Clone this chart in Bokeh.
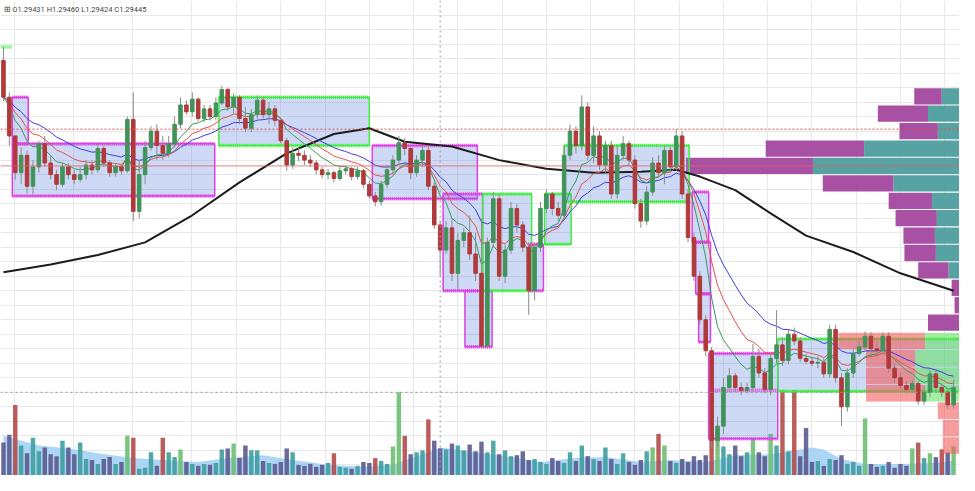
import numpy as np
import pandas as pd
from bokeh.plotting import figure
from bokeh.models import Range1d, FixedTicker, Label, Span
from bokeh.embed import file_html
from bokeh.resources import INLINE

# ---------------- data ----------------
header_text = "\u229e O1.29431  H1.29460  L1.29424  C1.29445"

first_open = 1.2969
closes = [1.2950, 1.2930, 1.2911, 1.2920, 1.2904, 1.2914, 1.2926, 1.2916, 1.2910, 1.2905,
          1.2914, 1.2910, 1.29075, 1.2910, 1.2915, 1.29125, 1.29235, 1.2916, 1.2911, 1.2914,
          1.2912, 1.29385, 1.2891, 1.2910, 1.2924, 1.29325, 1.2925, 1.2921, 1.2926, 1.2936,
          1.2946, 1.29425, 1.2949, 1.2939, 1.2944, 1.2940, 1.2947, 1.2954, 1.2945, 1.2950,
          1.2939, 1.2934, 1.2941, 1.29485, 1.2941, 1.2944, 1.2938, 1.29275, 1.2915, 1.2921,
          1.2920, 1.29175, 1.2916, 1.29125, 1.2910, 1.2911, 1.2908, 1.2912, 1.2913, 1.2909,
          1.2912, 1.2905, 1.2899, 1.2896, 1.2905, 1.29125, 1.29175, 1.29265, 1.29235, 1.2911,
          1.29175, 1.29225, 1.2904, 1.2884, 1.2871, 1.28825, 1.2859, 1.2876, 1.2880, 1.2869,
          1.2859, 1.28215, 1.2875, 1.28975, 1.28575, 1.2871, 1.28925, 1.2884, 1.28725, 1.2850,
          1.28725, 1.28925, 1.2900, 1.28925, 1.2889, 1.2920, 1.29325, 1.2925, 1.2945, 1.2920,
          1.2930, 1.2915, 1.2925, 1.2900, 1.2920, 1.2926, 1.29175, 1.2895, 1.2886, 1.2901,
          1.2916, 1.2911, 1.29225, 1.2914, 1.2930, 1.2900, 1.28775, 1.28575, 1.2835, 1.2819,
          1.27725, 1.2780, 1.2800, 1.2806, 1.2800, 1.27985, 1.2800, 1.2816, 1.28075, 1.2799,
          1.2815, 1.2822, 1.2814, 1.28275, 1.2824, 1.2815, 1.28135, 1.28125, 1.2813, 1.2807,
          1.2830, 1.2805, 1.2790, 1.28075, 1.28175, 1.2821, 1.28265, 1.2820, 1.2819, 1.28265,
          1.2810, 1.2805, 1.2801, 1.2799, 1.2802, 1.2793, 1.27975, 1.2807, 1.2800, 1.27975,
          1.2791, 1.2800]
highs = [1.2976, 1.29525, 1.2930, 1.2924, 1.29225, 1.29175, 1.29275, 1.2930, 1.2920, 1.29125,
         1.2916, 1.2916, 1.29125, 1.2914, 1.29175, 1.29175, 1.2926, 1.2925, 1.29175, 1.2916,
         1.2915, 1.2940, 1.29525, 1.29175, 1.29275, 1.2935, 1.2936, 1.2930, 1.2930, 1.2940,
         1.2950, 1.29485, 1.29525, 1.2950, 1.2946, 1.2946, 1.2950, 1.2956, 1.2955, 1.2952,
         1.2951, 1.2945, 1.2944, 1.2951, 1.2950, 1.29475, 1.2946, 1.2939, 1.2929, 1.2924,
         1.2924, 1.29225, 1.2920, 1.29175, 1.2914, 1.2913, 1.2912, 1.2914, 1.2915, 1.2914,
         1.2914, 1.2913, 1.2907, 1.2901, 1.2907, 1.2915, 1.2920, 1.2930, 1.2929, 1.2925,
         1.2920, 1.2925, 1.2925, 1.2906, 1.2886, 1.2886, 1.28875, 1.2880, 1.28825, 1.2889,
         1.2880, 1.28875, 1.28775, 1.2901, 1.2900, 1.2874, 1.2896, 1.2895, 1.2886, 1.2875,
         1.2875, 1.2896, 1.29025, 1.2901, 1.2896, 1.2925, 1.2936, 1.2935, 1.2951, 1.29475,
         1.2935, 1.29325, 1.29275, 1.29275, 1.2925, 1.2930, 1.29275, 1.2920, 1.28975, 1.2904,
         1.2919, 1.2920, 1.2925, 1.2925, 1.29335, 1.29325, 1.29025, 1.2880, 1.2860, 1.28375,
         1.2821, 1.2785, 1.2805, 1.2810, 1.28075, 1.28025, 1.28025, 1.28225, 1.2820, 1.2810,
         1.28175, 1.2840, 1.2826, 1.2830, 1.2831, 1.2826, 1.28175, 1.2816, 1.2816, 1.2815,
         1.28325, 1.28325, 1.28075, 1.2810, 1.2820, 1.2824, 1.2829, 1.28285, 1.2824, 1.28285,
         1.28285, 1.28125, 1.28075, 1.28035, 1.2804, 1.28035, 1.2800, 1.2809, 1.28085, 1.2802,
         1.2799, 1.2804]
lows = [1.2948, 1.2925, 1.29075, 1.2905, 1.2900, 1.2900, 1.2911, 1.2914, 1.29075, 1.2902,
        1.29035, 1.29075, 1.2905, 1.2906, 1.29075, 1.2910, 1.2911, 1.2914, 1.2909, 1.2909,
        1.2910, 1.2911, 1.2886, 1.28875, 1.2905, 1.29225, 1.29175, 1.29175, 1.2919, 1.2924,
        1.2934, 1.2941, 1.2940, 1.29375, 1.2937, 1.2938, 1.2938, 1.2946, 1.2943, 1.29415,
        1.2936, 1.2932, 1.2932, 1.2939, 1.2939, 1.2936, 1.2935, 1.2926, 1.2912, 1.2913,
        1.2917, 1.2915, 1.2914, 1.2910, 1.2908, 1.29075, 1.2906, 1.2907, 1.2910, 1.2907,
        1.29075, 1.2903, 1.28975, 1.28935, 1.2894, 1.2903, 1.2910, 1.2915, 1.2920, 1.29075,
        1.2909, 1.2914, 1.2902, 1.2882, 1.28575, 1.2869, 1.2855, 1.2850, 1.28725, 1.2866,
        1.2855, 1.2820, 1.2820, 1.28725, 1.2855, 1.2854, 1.2869, 1.2880, 1.2870, 1.28375,
        1.2845, 1.2870, 1.2890, 1.2889, 1.2886, 1.2887, 1.29175, 1.2921, 1.29225, 1.29175,
        1.2916, 1.29125, 1.2911, 1.28975, 1.28975, 1.29175, 1.2915, 1.28925, 1.28825, 1.2884,
        1.2899, 1.2909, 1.2905, 1.2911, 1.2912, 1.28975, 1.2875, 1.2855, 1.28325, 1.2816,
        1.2769, 1.2769, 1.2776, 1.27975, 1.27975, 1.2796, 1.2797, 1.27975, 1.2805, 1.2797,
        1.2796, 1.28125, 1.2811, 1.2812, 1.2822, 1.2813, 1.2812, 1.2811, 1.2810, 1.2805,
        1.2805, 1.28025, 1.2780, 1.27875, 1.2805, 1.2816, 1.2819, 1.28175, 1.2817, 1.2817,
        1.28075, 1.28025, 1.2799, 1.2797, 1.2797, 1.2791, 1.2791, 1.2795, 1.27975, 1.2795,
        1.2789, 1.2789]
volumes = [340, 420, 730, 310, 230, 390, 250, 290, 220, 200,
           360, 290, 220, 340, 170, 160, 120, 170, 190, 120,
           140, 410, 390, 70, 80, 240, 100, 390, 240, 190,
           270, 140, 120, 100, 120, 110, 130, 270, 280, 330,
           180, 310, 260, 260, 150, 130, 120, 140, 280, 240,
           110, 100, 120, 90, 110, 130, 230, 90, 80, 70,
           100, 140, 130, 180, 150, 120, 300, 860, 410, 220,
           240, 260, 580, 360, 280, 270, 330, 310, 260, 320,
           250, 350, 240, 360, 220, 260, 200, 210, 250, 160,
           170, 140, 120, 180, 150, 130, 240, 150, 310, 200,
           170, 150, 290, 170, 120, 230, 140, 110, 160, 250,
           290, 430, 310, 150, 130, 170, 140, 200, 160, 210,
           400, 380, 300, 220, 310, 200, 240, 380, 240, 200,
           430, 310, 880, 250, 880, 200, 490, 140, 150, 100,
           170, 160, 210, 120, 140, 100, 590, 120, 90, 100,
           140, 80, 120, 100, 280, 340, 180, 230, 190, 270,
           240, 300]

# long moving average (at some bars)
ma_long_idx = [0, 8, 16, 24, 32, 40, 48, 56, 62, 68, 76, 84, 92, 100, 108, 114, 118, 124, 130, 136, 144, 152, 161]
ma_long_val = [1.28595, 1.28635, 1.28685, 1.2875, 1.2889, 1.2906, 1.2921, 1.2931, 1.2934, 1.2927, 1.29245,
               1.29175, 1.2913, 1.2911, 1.29115, 1.29125, 1.2909, 1.2902, 1.2890, 1.28785, 1.2870, 1.2859, 1.2850]

# volume moving average
vol_ma_idx = [0, 6, 11, 16, 22, 27, 33, 38, 44, 49, 55, 61, 66, 72, 74, 80, 86, 91, 97, 102, 108, 113,
              119, 124, 130, 137, 139, 142, 146, 152, 157, 161]
vol_ma_val = [410, 310, 280, 230, 180, 160, 140, 180, 210, 160, 110, 90, 110, 240, 290, 240, 190, 140,
              180, 190, 140, 160, 140, 210, 220, 290, 270, 170, 120, 120, 130, 150]

# supply / demand zones
zone_left = [1.5, 1.5, 36.5, 62.5, 74.5, 78.2, 81.2, 89.2, 91.7, 95.0, 116.7, 117.3, 117.8, 119.5, 131.2]
zone_right = [4.2, 35.8, 62.0, 80.3, 81.2, 82.8, 89.5, 91.5, 96.2, 116.2, 119.5, 119.8, 119.8, 131.2, 162.0]
zone_top = [1.2950, 1.2926, 1.2950, 1.2925, 1.2900, 1.2850, 1.2900, 1.2874, 1.2900, 1.2925, 1.2901,
            1.2875, 1.28485, 1.28175, 1.2825]
zone_bottom = [1.2926, 1.2899, 1.2925, 1.28975, 1.2850, 1.2821, 1.2850, 1.2850, 1.2874, 1.2896, 1.2875,
               1.28485, 1.28235, 1.27735, 1.2798]
zone_kind = ["bear", "bear", "bull", "bear", "bear", "bear", "bull", "bear", "bull", "bull", "bear",
             "bear", "bear", "bear", "bull"]
zone_mid = [None, None, None, None, None, None, None, None, None, None, None, None, None, 1.27985, None]

old_zone_top = 1.2976
level_dotted = 1.29335
level_poc = 1.29145
cross_bar = 74
cross_price = 1.27975

# visible range volume profile (right side)
vp_price = [1.29505, 1.29415, 1.29325, 1.29235, 1.29145, 1.29055, 1.28965, 1.28875, 1.28785, 1.28695,
            1.28605, 1.28515, 1.28425, 1.28335]
vp_down = [28, 51, 39, 100, 129, 72, 44, 42, 32, 32, 31, 8, 5, 32]
vp_up = [18, 32, 22, 97, 149, 67, 28, 23, 25, 24, 11, 0, 0, 0]

# session volume profile (lower right)
sp_price = [1.2824, 1.2815, 1.2806, 1.2797, 1.2788, 1.2779, 1.2770]
sp_down = [88, 50, 50, 60, 22, 17, 17]
sp_up = [35, 45, 45, 35, 0, 0, 0]

time_grid = [1.83, 11.83, 21.83, 31.83, 39.5, 47, 54.5, 62, 69.5, 77, 84.5, 92, 99.5, 107, 114.5,
             122, 129.5, 137, 144.5, 152, 159.5]

# ---------------- derived ----------------
n = len(closes)
idx = np.arange(n)
opens = [first_open] + closes[:-1]
up = [c >= o for o, c in zip(opens, closes)]
UP_C, DN_C = "#40935a", "#b03a3a"
body_col = [UP_C if u else DN_C for u in up]
body_top = [max(o, c) for o, c in zip(opens, closes)]
body_bot = [min(o, c) for o, c in zip(opens, closes)]

ma_ref = np.interp(idx, vol_ma_idx, vol_ma_val)
vol_col = []
for v, m, u in zip(volumes, ma_ref, up):
    if v > 1.75 * m:
        vol_col.append("#6dbf72" if u else "#b44b4b")
    else:
        vol_col.append("#3f9d9d" if u else "#5c5a8e")

s = pd.Series(closes)
ema_fast = s.ewm(span=8, adjust=False).mean()
ema_mid = s.ewm(span=13, adjust=False).mean()
ema_slow = s.ewm(span=21, adjust=False).mean()

# ---------------- figure ----------------
W, H = 959, 475
p = figure(width=W, height=H, x_range=Range1d(-0.5, 162), y_range=Range1d(1.27545, 1.3),
           output_backend="svg", toolbar_location=None, min_border=0)
p.outline_line_color = None
p.axis.visible = False
p.xgrid.ticker = FixedTicker(ticks=time_grid)
p.ygrid.ticker = FixedTicker(ticks=[round(1.3 - 0.00075 * k, 5) for k in range(1, 33)])
p.grid.grid_line_color = "#e8e8e8"
p.background_fill_color = "white"

p.extra_y_ranges = {"vol": Range1d(0, 4910)}
p.extra_x_ranges = {"vp": Range1d(0, 975)}

# volume MA area and volume bars
p.varea(x=vol_ma_idx, y1=[0] * len(vol_ma_idx), y2=vol_ma_val, y_range_name="vol",
        fill_color="#9fcff4", fill_alpha=0.85)
p.vbar(x=idx, top=volumes, bottom=0, width=0.75, y_range_name="vol",
       fill_color=vol_col, line_color=None, fill_alpha=0.9)

# visible range profile
vp_tot = [a + b for a, b in zip(vp_down, vp_up)]
p.hbar(y=vp_price, left=[975 - t for t in vp_tot], right=[975 - b for b in vp_up], height=0.00084,
       x_range_name="vp", fill_color="#a3479f", line_color=None, fill_alpha=0.95)
p.hbar(y=vp_price, left=[975 - b for b in vp_up], right=975, height=0.00084,
       x_range_name="vp", fill_color="#4e9d9d", line_color=None, fill_alpha=0.95)

# zones
zcol = {"bear": "#e23ce6", "bull": "#3cf03c"}
zc = [zcol[k] for k in zone_kind]
p.quad(left=zone_left, right=zone_right, top=zone_top, bottom=zone_bottom,
       fill_color="#6a8fe0", fill_alpha=0.33, line_color=zc, line_width=1.5)
p.segment(x0=zone_left, x1=zone_right, y0=zone_top, y1=zone_top, line_color=zc,
          line_width=3.5, line_dash="1 1")
p.segment(x0=zone_left, x1=zone_right, y0=zone_bottom, y1=zone_bottom, line_color=zc,
          line_width=3.5, line_dash="1 1")
mids = [(l, r, m, c) for l, r, m, c in zip(zone_left, zone_right, zone_mid, zc) if m is not None]
p.segment(x0=[m[0] for m in mids], x1=[m[1] for m in mids], y0=[m[2] for m in mids],
          y1=[m[2] for m in mids], line_color=[m[3] for m in mids], line_width=3.5, line_dash="1 1")
p.segment(x0=[-0.5], x1=[1.5], y0=[old_zone_top], y1=[old_zone_top], line_color="#3cf03c",
          line_width=3.5, line_dash="1 1")

# session profile
sp_tot = [a + b for a, b in zip(sp_down, sp_up)]
p.hbar(y=sp_price, left=[975 - t for t in sp_tot], right=[975 - b for b in sp_up], height=0.00086,
       x_range_name="vp", fill_color="#f25c5c", line_color=None, fill_alpha=0.6)
p.hbar(y=sp_price, left=[975 - b for b in sp_up], right=975, height=0.00086,
       x_range_name="vp", fill_color="#5be05b", line_color=None, fill_alpha=0.55)

# horizontal levels and crosshair
p.add_layout(Span(location=level_dotted, dimension="width", line_color="#d9534f",
                  line_dash="2 2", line_width=1))
p.add_layout(Span(location=level_poc, dimension="width", line_color="#e06060",
                  line_alpha=0.8, line_width=1))
p.add_layout(Span(location=cross_bar, dimension="height", line_color="#9a9a9a",
                  line_dash="2 3", line_width=1))
p.add_layout(Span(location=cross_price, dimension="width", line_color="#9a9a9a",
                  line_dash="2 3", line_width=1))

# moving averages
p.line(ma_long_idx, ma_long_val, line_color="#1c1c1c", line_width=2)
p.line(idx, ema_slow, line_color="#3d3ddb", line_width=1)
p.line(idx, ema_mid, line_color="#e0534a", line_width=1)
p.line(idx, ema_fast, line_color="#3a9a5a", line_width=1)

# candles
p.segment(x0=idx, x1=idx, y0=highs, y1=lows, line_color="#8c8c8c", line_width=1)
p.vbar(x=idx, top=body_top, bottom=body_bot, width=0.6, fill_color=body_col, line_color=body_col)

p.add_layout(Label(x=3, y=H - 9, x_units="screen", y_units="screen", text=header_text,
                   text_font="Roboto", text_font_size="7.5px", text_color="#444444",
                   text_baseline="middle"))

open("out.html", "w").write(file_html(p, INLINE))
